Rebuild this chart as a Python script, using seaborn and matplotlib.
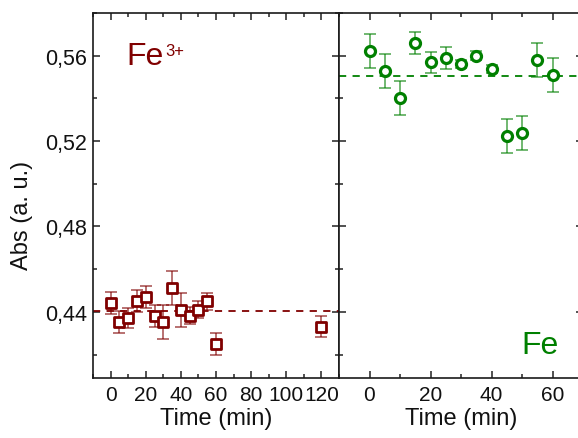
import matplotlib
matplotlib.use("Agg")
import matplotlib.pyplot as plt
from matplotlib.ticker import FixedLocator, MultipleLocator, FixedFormatter
import seaborn as sns
import pandas as pd

# Fe3+ series
t_fe3 = [0, 5, 10, 15, 20, 25, 30, 35, 40, 45, 50, 55, 60, 120]
abs_fe3 = [0.4442, 0.4352, 0.4370, 0.4450, 0.4470, 0.4380, 0.4352,
           0.4513, 0.4409, 0.4381, 0.4409, 0.4450, 0.4250, 0.4331]
err_fe3 = [0.005, 0.005, 0.0048, 0.005, 0.005, 0.005, 0.008,
           0.008, 0.008, 0.004, 0.004, 0.004, 0.005, 0.005]
mean_fe3 = 0.4406

# Fe series
t_fe = [0, 5, 10, 15, 20, 25, 30, 35, 40, 45, 50, 55, 60]
abs_fe = [0.5621, 0.5530, 0.5400, 0.5660, 0.5569, 0.5589, 0.5561,
          0.5600, 0.5538, 0.5225, 0.5236, 0.5581, 0.5510]
err_fe = [0.008, 0.008, 0.008, 0.005, 0.005, 0.005, 0.002,
          0.002, 0.002, 0.008, 0.008, 0.008, 0.008]
mean_fe = 0.5503

y_ticks = [0.44, 0.48, 0.52, 0.56]
y_labels = ["0,44", "0,48", "0,52", "0,56"]
x_ticks_left = [0, 20, 40, 60, 80, 100, 120]
x_ticks_right = [0, 20, 40, 60]

red = "#800000"
green = "#008000"
ink = "#111111"

sns.set_theme(style="white")
plt.rcParams["font.family"] = ["Liberation Sans", "DejaVu Sans"]
plt.rcParams["text.color"] = ink
plt.rcParams["axes.labelcolor"] = ink

fig = plt.figure(figsize=(5.78, 4.39), dpi=100)
W, H = 578, 439
ax1 = fig.add_axes([93 / W, (H - 379) / H, 246 / W, 365 / H])
ax2 = fig.add_axes([339 / W, (H - 379) / H, 244 / W, 365 / H])

df1 = pd.DataFrame({"t": t_fe3, "a": abs_fe3, "e": err_fe3})
df2 = pd.DataFrame({"t": t_fe, "a": abs_fe, "e": err_fe})


def panel(ax, df, color, marker, ms, mew, mean, xlim, xticks):
    ax.errorbar(df["t"], df["a"], yerr=df["e"], fmt="none", ecolor=color,
                alpha=0.6, elinewidth=1.3, capsize=4, capthick=1.3, zorder=2)
    sns.scatterplot(data=df, x="t", y="a", ax=ax, marker=marker, s=ms,
                    facecolor="white", edgecolor=color, linewidth=mew,
                    zorder=3, legend=False)
    ax.axhline(mean, color=color, lw=1.3, dashes=(4, 3.5), zorder=1)
    ax.set_xlim(*xlim)
    ax.set_ylim(0.409, 0.580)
    ax.xaxis.set_major_locator(FixedLocator(xticks))
    ax.xaxis.set_minor_locator(MultipleLocator(20, offset=10))
    ax.yaxis.set_major_locator(FixedLocator(y_ticks))
    ax.yaxis.set_minor_locator(FixedLocator([0.42, 0.46, 0.50, 0.54, 0.58]))
    ax.yaxis.set_major_formatter(FixedFormatter(y_labels))
    ax.tick_params(which="both", direction="in", top=True, bottom=True,
                   left=True, right=True, color="#222222", width=1.1,
                   labelcolor=ink)
    ax.tick_params(which="major", length=5)
    ax.tick_params(which="minor", length=3)
    ax.tick_params(axis="x", labelsize=15, pad=5)
    ax.tick_params(axis="y", labelsize=15.5, pad=4)
    for sp in ax.spines.values():
        sp.set_color("#1a1a1a")
        sp.set_linewidth(1.2)
    ax.set_xlabel("Time (min)", fontsize=17, labelpad=2)
    ax.set_ylabel("")


panel(ax1, df1, red, "s", 46, 2.0, mean_fe3, (-10, 130), x_ticks_left)
panel(ax2, df2, green, "o", 52, 2.3, mean_fe, (-10, 70), x_ticks_right)

ax2.tick_params(axis="y", labelleft=False)
ax1.set_ylabel("Abs (a. u.)", fontsize=17)
ax1.yaxis.set_label_coords(-0.245, 0.449)

# Ion label with a raised charge
fig.text(126 / W, (H - 65) / H, "Fe", fontsize=23, color=red,
         ha="left", va="baseline")
fig.text(165 / W, (H - 56.5) / H, "3+", fontsize=12, color=red,
         ha="left", va="baseline")
fig.text(521 / W, (H - 354) / H, "Fe", fontsize=23, color=green,
         ha="left", va="baseline")

fig.savefig("out.png", dpi=100)
